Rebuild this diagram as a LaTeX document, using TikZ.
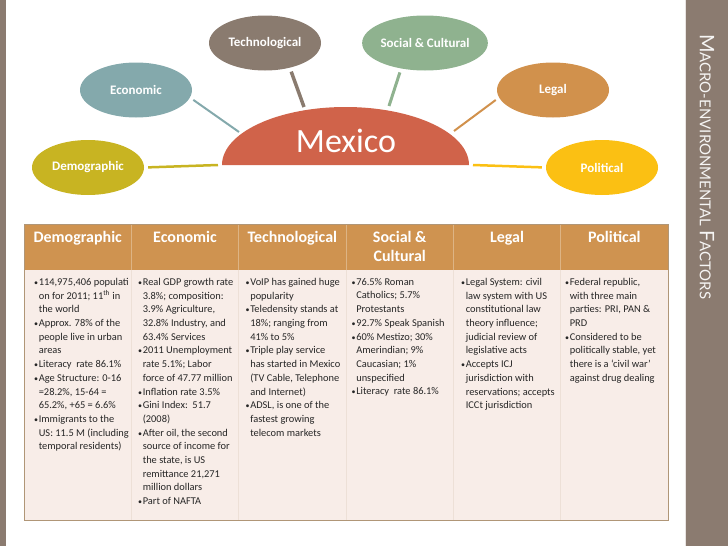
\documentclass[tikz,border=0pt]{standalone}
\usepackage{fontspec}
\setmainfont{Carlito}
\newfontfamily\titlefont{Lato}
\usetikzlibrary{shapes.geometric}

\definecolor{demoC}{HTML}{C8B422}
\definecolor{econC}{HTML}{84A9AC}
\definecolor{techC}{HTML}{8A7B6F}
\definecolor{socC}{HTML}{8FB28F}
\definecolor{legC}{HTML}{D1914C}
\definecolor{polC}{HTML}{FBC013}
\definecolor{mexC}{HTML}{D0634A}
\definecolor{headC}{HTML}{CF9350}
\definecolor{bodyC}{HTML}{F8EDE8}
\definecolor{barC}{HTML}{8B7B70}
\definecolor{tabC}{HTML}{B09677}

\newcommand{\itm}{\makebox[4.6pt][l]{\fontsize{8}{8}\selectfont •}}
\newcommand{\ind}{\hspace*{4.6pt}}
\newcommand{\bigsc}[1]{{\fontsize{20}{20}\selectfont #1}}
\newcommand{\smlsc}[1]{{\fontsize{15}{15}\selectfont #1}}

\tikzset{
  factor/.style={ellipse, minimum width=112pt, minimum height=55pt, inner sep=0pt,
    text=white, font=\bfseries\fontsize{13}{13}\selectfont},
  link/.style={line width=#1, shorten <=4pt},
  head/.style={anchor=north, inner sep=0pt, align=center, text=white,
    font=\bfseries\fontsize{16}{19}\selectfont},
  cell/.style={anchor=north west, inner sep=0pt, align=left, text=black!85,
    font=\fontsize{10.4}{13.7}\selectfont}
}

\begin{document}
\begin{tikzpicture}[x=1pt, y=-1pt]
  \useasboundingbox (0,0) rectangle (728,546);
  % side bars
  \fill[barC] (0,0) rectangle (6,546);
  \fill[barC] (685,0) rectangle (728,546);
  \draw[white!80!barC, line width=0.8pt] (685,0) -- (685,546);
  \node[anchor=west, rotate=-90, inner sep=0pt, text=white!92!barC, font=\titlefont]
    (title) at (707,34) {\bigsc{M}\smlsc{ACRO-ENVIRONMENTAL }\bigsc{F}\smlsc{ACTORS}};

  % Mexico dome
  \fill[mexC] (222,165) arc[start angle=180, end angle=0, x radius=123.5pt, y radius=58pt] -- cycle;
  \node[anchor=base, inner sep=0pt, text=white, font=\fontsize{34}{34}\selectfont]
    (mexico) at (346,152) {Mexico};
  \coordinate (m-demo) at (218,165);
  \coordinate (m-econ) at (239,132);
  \coordinate (m-tech) at (304,107);
  \coordinate (m-soc) at (389,106);
  \coordinate (m-leg) at (454,131);
  \coordinate (m-pol) at (473,165);

  % factor ellipses
  \node[factor, fill=demoC] (demo) at (88,167.5) {Demographic};
  \node[factor, fill=econC] (econ) at (136,90) {Economic};
  \node[factor, fill=techC] (tech) at (265,43) {Technological};
  \node[factor, fill=socC] (soc) at (425,43) {Social \& Cultural};
  \node[factor, fill=legC] (leg) at (553,90) {Legal};
  \node[factor, fill=polC] (pol) at (602,167.5) {Political};

  % connectors
  \draw[link=2.5pt, draw=demoC] (demo.east) -- (m-demo);
  \draw[link=2pt, draw=econC] (econ.-8) -- (m-econ);
  \draw[link=3.5pt, draw=techC] (tech.-45) -- (m-tech);
  \draw[link=3pt, draw=socC] (soc.-133) -- (m-soc);
  \draw[link=2pt, draw=legC] (leg.-172) -- (m-leg);
  \draw[link=2.5pt, draw=polC] (pol.west) -- (m-pol);

  % table
  \fill[bodyC] (24,270) rectangle (668,520);
  \fill[headC] (24,224) rectangle (668,270);
  \foreach \i in {1,...,5} {
    \draw[headC!70!white, line width=0.8pt] ({24+\i*107.33},224) -- ({24+\i*107.33},270);
    \draw[bodyC!85!tabC, line width=0.6pt] ({24+\i*107.33},270) -- ({24+\i*107.33},520);
  }
  \draw[tabC, line width=0.9pt] (24,224) rectangle (668,520);

  \node[head] (h-demo) at (77.7,231) {Demographic};
  \node[head] (h-econ) at (185,231) {Economic};
  \node[head] (h-tech) at (292.3,231) {Technological};
  \node[head] (h-soc) at (399.7,231) {Social \&\\Cultural};
  \node[head] (h-leg) at (507,231) {Legal};
  \node[head] (h-pol) at (614.3,231) {Political};

  \node[cell] (c-demo) at (34,278) {\itm 114,975,406 populati\\
    \ind on for 2011; 11\textsuperscript{th} in\\
    \ind the world\\
    \itm Approx. 78\% of the\\
    \ind people live in urban\\
    \ind areas\\
    \itm Literacy\ \ rate 86.1\%\\
    \itm Age Structure: 0-16\\
    \ind =28.2\%, 15-64 =\\
    \ind 65.2\%, +65 = 6.6\%\\
    \itm Immigrants to the\\
    \ind US: 11.5 M (including\\
    \ind temporal residents)};
  \node[cell] (c-econ) at (138,278) {\itm Real GDP growth rate\\
    \ind 3.8\%; composition:\\
    \ind 3.9\% Agriculture,\\
    \ind 32.8\% Industry, and\\
    \ind 63.4\% Services\\
    \itm 2011 Unemployment\\
    \ind rate 5.1\%; Labor\\
    \ind force of 47.77 million\\
    \itm Inflation rate 3.5\%\\
    \itm Gini Index:\ \ 51.7\\
    \ind (2008)\\
    \itm After oil, the second\\
    \ind source of income for\\
    \ind the state, is US\\
    \ind remittance 21,271\\
    \ind million dollars\\
    \itm Part of NAFTA};
  \node[cell] (c-tech) at (245.5,278) {\itm VoIP has gained huge\\
    \ind popularity\\
    \itm Teledensity stands at\\
    \ind 18\%; ranging from\\
    \ind 41\% to 5\%\\
    \itm Triple play service\\
    \ind has started in Mexico\\
    \ind (TV Cable, Telephone\\
    \ind and Internet)\\
    \itm ADSL, is one of the\\
    \ind fastest growing\\
    \ind telecom markets};
  \node[cell] (c-soc) at (351.5,278) {\itm 76.5\% Roman\\
    \ind Catholics; 5.7\%\\
    \ind Protestants\\
    \itm 92.7\% Speak Spanish\\
    \itm 60\% Mestizo; 30\%\\
    \ind Amerindian; 9\%\\
    \ind Caucasian; 1\%\\
    \ind unspecified\\
    \itm Literacy\ \ rate 86.1\%};
  \node[cell] (c-leg) at (461,278) {\itm Legal System: civil\\
    \ind law system with US\\
    \ind constitutional law\\
    \ind theory influence;\\
    \ind judicial review of\\
    \ind legislative acts\\
    \itm Accepts ICJ\\
    \ind jurisdiction with\\
    \ind reservations; accepts\\
    \ind ICCt jurisdiction};
  \node[cell] (c-pol) at (565,278) {\itm Federal republic,\\
    \ind with three main\\
    \ind parties: PRI, PAN \&\\
    \ind PRD\\
    \itm Considered to be\\
    \ind politically stable, yet\\
    \ind there is a ‘civil war’\\
    \ind against drug dealing};
\end{tikzpicture}
\end{document}
